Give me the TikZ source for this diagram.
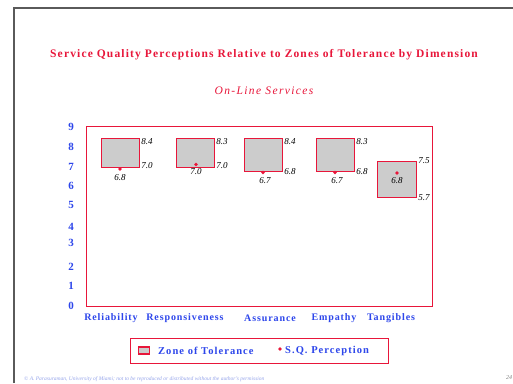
\documentclass[tikz,border=0pt]{standalone}
\usepackage{fontspec}
\setmainfont{Liberation Serif}
\definecolor{qred}{RGB}{232,22,58}
\definecolor{qblue}{RGB}{45,70,235}
\definecolor{qgray}{RGB}{204,204,204}
\definecolor{qframe}{RGB}{90,90,90}
\definecolor{qfoot}{RGB}{150,165,235}
\begin{document}
\begin{tikzpicture}[x=1pt,y=-1pt,
  zone/.style={draw=qred, fill=qgray, line width=1.3pt, inner sep=0pt, anchor=north west},
  pdot/.style={circle, fill=qred, inner sep=0pt, minimum size=3.6pt},
  val/.style={font=\fontsize{9}{10}\selectfont\itshape, text=black, inner sep=0pt},
  ytick/.style={font=\fontsize{11}{12}\selectfont\bfseries, text=qblue, inner sep=0pt},
  cat/.style={font=\fontsize{10}{11}\selectfont\bfseries\addfontfeature{LetterSpace=9}, text=qblue, inner sep=0pt},
  leg/.style={font=\fontsize{10.5}{12}\selectfont\bfseries\addfontfeature{LetterSpace=10}, text=qblue, inner sep=0pt, anchor=west}]
\useasboundingbox (0,0) rectangle (513,383);
\fill[white] (0,0) rectangle (513,383);
% page frame
\draw[qframe, line width=1.5pt] (14,383) -- (14,8) -- (513,8);
% titles
\node[font=\fontsize{11.5}{13}\selectfont\bfseries\addfontfeature{LetterSpace=10}, text=qred, inner sep=0pt] (title) at (264,55)
  {Service Quality Perceptions Relative to Zones of Tolerance by Dimension};
\node[font=\fontsize{11.5}{13}\selectfont\itshape\addfontfeature{LetterSpace=12}, text=qred, inner sep=0pt] (sub) at (264,91) {On-Line Services};
% plot frame
\node[draw=qred, line width=1.3pt, minimum width=346pt, minimum height=180pt, inner sep=0pt, anchor=north west] (plot) at (86,126) {};
% y ticks
\foreach \v/\y in {9/127,8/147,7/167,6/186,5/205,4/227,3/243,2/267,1/286,0/306}
  \node[ytick] (y\v) at (71,\y) {\v};
% zones
\node[zone, minimum width=38pt, minimum height=29pt] (z1) at (101,138) {};
\node[zone, minimum width=38pt, minimum height=29pt] (z2) at (176,138) {};
\node[zone, minimum width=38pt, minimum height=33pt] (z3) at (244,138) {};
\node[zone, minimum width=38pt, minimum height=33pt] (z4) at (316,138) {};
\node[zone, minimum width=39pt, minimum height=36pt] (z5) at (377,161) {};
% perceptions
\node[pdot] (p1) at (120,169) {};
\node[pdot] (p2) at (196,164.5) {};
\node[pdot] (p3) at (263,172.5) {};
\node[pdot] (p4) at (335,172.5) {};
\node[pdot] (p5) at (397,173) {};
% values
\node[val] (u1) at (147,142) {8.4};
\node[val] (l1) at (147,166) {7.0};
\node[val] (s1) at (120,178) {6.8};
\node[val] (u2) at (222,142) {8.3};
\node[val] (l2) at (222,166) {7.0};
\node[val] (s2) at (196,172) {7.0};
\node[val] (u3) at (290,142) {8.4};
\node[val] (l3) at (290,172) {6.8};
\node[val] (s3) at (265,181) {6.7};
\node[val] (u4) at (362,142) {8.3};
\node[val] (l4) at (362,172) {6.8};
\node[val] (s4) at (337,181) {6.7};
\node[val] (u5) at (424,161) {7.5};
\node[val] (l5) at (424,198) {5.7};
\node[val] (s5) at (397,181) {6.8};
% categories
\node[cat] (c1) at (111,318) {Reliability};
\node[cat] (c2) at (185,318) {Responsiveness};
\node[cat] (c3) at (270,318) {Assurance};
\node[cat] (c4) at (334,318) {Empathy};
\node[cat] (c5) at (391,318) {Tangibles};
% legend
\node[draw=qred, line width=1.3pt, minimum width=258pt, minimum height=25pt, inner sep=0pt, anchor=north west] (legend) at (130,338) {};
\node[draw=qred, fill=qgray, line width=1.2pt, minimum width=11pt, minimum height=7pt, inner sep=0pt] (lz) at (144,350.5) {};
\node[leg] (lzt) at (158,350.5) {Zone of Tolerance};
\node[pdot] (lp) at (280,349) {};
\node[leg] (lpt) at (285,350.5) {S.Q. Perception};
% footer
\node[font=\fontsize{5.5}{6}\selectfont\itshape, text=qfoot, inner sep=0pt, anchor=west] (foot) at (24,379)
  {© A. Parasuraman, University of Miami; not to be reproduced or distributed without the author's permission};
\node[font=\fontsize{6}{7}\selectfont\itshape, text=gray, inner sep=0pt, anchor=west] (page) at (506,378) {24};
\end{tikzpicture}
\end{document}
